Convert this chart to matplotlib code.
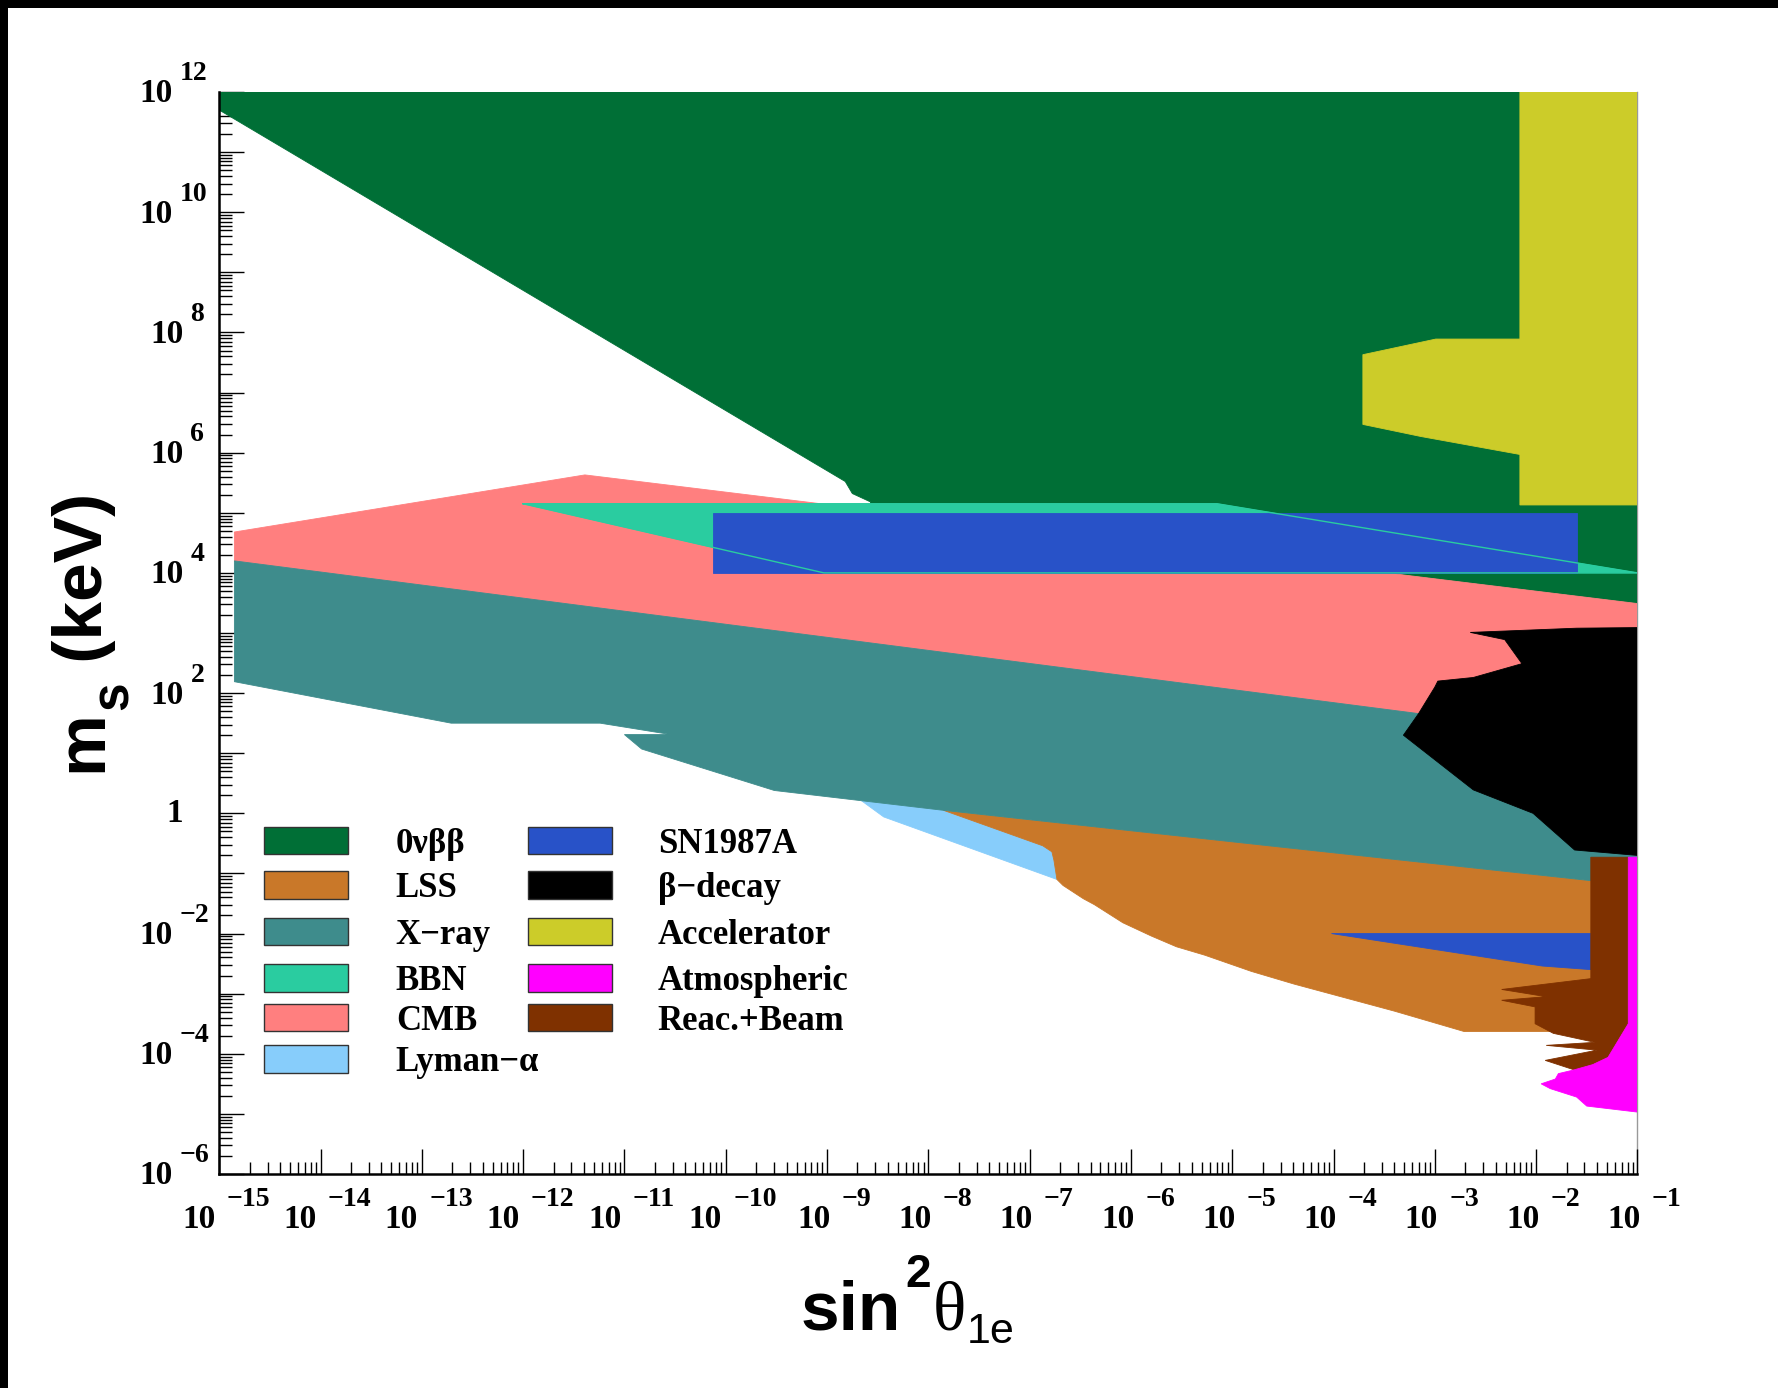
import numpy as np
import matplotlib
matplotlib.use("Agg")
import matplotlib.pyplot as plt
from matplotlib.patches import Rectangle
from matplotlib.transforms import IdentityTransform
from matplotlib.ticker import LogLocator, NullFormatter

# all region outlines in log10 units: x = log10(sin^2 theta_1e), y = log10(m_s / keV)
onubb_x = [-15.0, -15.0, -1.0, -1.0, -8.58, -8.57, -8.75, -8.82, -8.96]
onubb_y = [11.70, 12.0, 12.0, 3.49, 5.05, 5.18, 5.32, 5.52, 5.66]

accel_x = [-2.16, -1.0, -1.0, -2.16, -2.16, -3.14, -3.71, -3.71, -2.99, -2.16]
accel_y = [12.0, 12.0, 5.13, 5.13, 5.97, 6.27, 6.47, 7.63, 7.89, 7.89]

cmb_x = [-14.85, -11.39, -1.0, -1.0, -14.85]
cmb_y = [4.68, 5.63, 3.49, 1.19, 4.20]

bbn_x = [-12.0, -5.15, -1.0, -9.03]
bbn_y = [5.15, 5.15, 4.0, 4.0]

sn_x = [-10.13, -1.60, -1.60, -10.13]
sn_y = [4.0, 4.0, 5.0, 5.0]
sn2_x = [-4.02, -1.46, -1.46, -1.94]
sn2_y = [-2.0, -2.0, -2.60, -2.54]

xray_x = [-14.85, -1.0, -1.0, -1.46, -4.53, -7.85, -8.66, -9.52, -10.83, -11.00,
          -10.54, -11.24, -12.71, -14.85]
xray_y = [4.20, 1.19, -0.80, -1.12, -0.56, 0.05, 0.21, 0.38, 1.07, 1.31,
          1.31, 1.50, 1.50, 2.19]

beta_x = [-2.65, -2.31, -2.14, -2.62, -2.97, -3.00, -3.16, -3.31, -2.62, -2.03,
          -1.62, -1.0, -1.0, -1.60]
beta_y = [3.01, 2.89, 2.49, 2.26, 2.20, 2.10, 1.66, 1.30, 0.39, 0.00,
          -0.61, -0.70, 3.09, 3.08]

lss_x = [-7.85, -1.46, -1.46, -2.71, -3.40, -4.39, -4.81, -5.27, -5.55, -5.80,
         -6.08, -6.36, -6.47, -6.67, -6.73, -6.76, -6.78, -6.87]
lss_y = [0.05, -1.12, -3.63, -3.63, -3.29, -2.84, -2.63, -2.36, -2.22, -2.04,
         -1.82, -1.52, -1.42, -1.20, -1.10, -0.78, -0.64, -0.54]

lyman_x = [-8.66, -7.85, -6.87, -6.78, -6.76, -6.73, -8.44]
lyman_y = [0.21, 0.05, -0.54, -0.64, -0.78, -1.10, -0.06]

reac_x = [-1.46, -1.09, -1.09, -1.29, -1.44, -1.62, -1.91, -1.40, -1.90, -1.42,
          -1.83, -2.01, -2.01, -2.34, -1.90, -2.34, -1.46]
reac_y = [-0.73, -0.73, -3.50, -4.06, -4.18, -4.27, -4.11, -3.94, -3.86, -3.81,
          -3.66, -3.50, -3.22, -3.11, -3.05, -2.93, -2.75]

atmo_x = [-1.09, -1.0, -1.0, -1.50, -1.60, -1.86, -1.95, -1.81, -1.78, -1.63,
          -1.44, -1.29, -1.09]
atmo_y = [-0.73, -0.73, -4.97, -4.87, -4.72, -4.58, -4.50, -4.42, -4.33, -4.27,
          -4.18, -4.06, -3.50]

c_onubb = "#006f36"
c_lss = "#c97829"
c_xray = "#3e8c8c"
c_bbn = "#2acca0"
c_cmb = "#ff7f7f"
c_lyman = "#87cdfb"
c_sn = "#2852c8"
c_beta = "#000000"
c_accel = "#cccc29"
c_atmo = "#ff00ff"
c_reac = "#7f3100"

legend_names = ["0νββ", "LSS", "X−ray", "BBN", "CMB", "Lyman−α",
                "SN1987A", "β−decay", "Accelerator", "Atmospheric", "Reac.+Beam"]
legend_colors = [c_onubb, c_lss, c_xray, c_bbn, c_cmb, c_lyman,
                 c_sn, c_beta, c_accel, c_atmo, c_reac]

xdecades = list(range(-15, 0))
ydecades = list(range(12, -7, -2))

W, H = 1778, 1388
fig = plt.figure(figsize=(W / 100, H / 100), dpi=100, facecolor="white")
ax = fig.add_axes([219.2 / W, 1 - 1174 / H, (1637.4 - 219.2) / W, (1174 - 92) / H])
ax.set_xscale("log")
ax.set_yscale("log")
ax.set_xlim(1e-15, 1e-1)
ax.set_ylim(1e-6, 1e12)


def region(lx, ly, color, z):
    ax.fill(10.0 ** np.array(lx), 10.0 ** np.array(ly), facecolor=color,
            edgecolor=color, lw=0.6, zorder=z)


region(onubb_x, onubb_y, c_onubb, 1)
region(accel_x, accel_y, c_accel, 2)
region(cmb_x, cmb_y, c_cmb, 3)
region(lyman_x, lyman_y, c_lyman, 3)
region(lss_x, lss_y, c_lss, 3.5)
region(xray_x, xray_y, c_xray, 4)
region(bbn_x, bbn_y, c_bbn, 5)
region(sn_x, sn_y, c_sn, 6)
ax.plot(10.0 ** np.append(bbn_x, bbn_x[0]), 10.0 ** np.append(bbn_y, bbn_y[0]),
        color=c_bbn, lw=1.0, zorder=6.5)
region(beta_x, beta_y, c_beta, 7)
region(sn2_x, sn2_y, c_sn, 7.5)
region(reac_x, reac_y, c_reac, 8)
region(atmo_x, atmo_y, c_atmo, 9)

# axis styling (ROOT look)
ax.set_axisbelow(True)
for a in (ax.xaxis, ax.yaxis):
    a.set_major_locator(LogLocator(base=10, numticks=60))
    a.set_minor_locator(LogLocator(base=10, subs=np.arange(2, 10), numticks=60))
    a.set_major_formatter(NullFormatter())
    a.set_minor_formatter(NullFormatter())
ax.tick_params(which="major", direction="in", length=18, width=1.0, top=False, right=False)
ax.tick_params(which="minor", direction="in", length=9, width=1.0, top=False, right=False)
ax.spines["top"].set_visible(False)
ax.spines["right"].set_color("#999999")
ax.spines["right"].set_linewidth(1.0)
ax.spines["right"].set_zorder(0.5)
for s in ("left", "bottom"):
    ax.spines[s].set_linewidth(1.8)

renderer = fig.canvas.get_renderer()
serif_b = dict(family="Liberation Serif", weight="bold")


def put(x, y, s, **kw):
    return fig.text(x, y, s, transform=IdentityTransform(), **kw)


# x tick labels
for e in xdecades:
    tx, ty = ax.transData.transform((10.0 ** e, 1e-6))
    t10 = put(0, 0, "10", fontsize=24, ha="left", va="center", **serif_b)
    te = put(0, 0, "−%d" % abs(e), fontsize=20, ha="left", va="center", **serif_b)
    w10 = t10.get_window_extent(renderer).width
    we = te.get_window_extent(renderer).width
    left = tx + 7 - (w10 + 11 + we) / 2
    t10.set_position((left, ty - 45))
    te.set_position((left + w10 + 11, ty - 25))

# y tick labels
for e in ydecades:
    tx, ty = ax.transData.transform((1e-15, 10.0 ** e))
    if e == 0:
        put(tx - 53, ty, "1", fontsize=24, ha="left", va="center", **serif_b)
        continue
    s = str(e) if e > 0 else "−%d" % (-e)
    off = 80 if len(s) == 2 else 69
    t10 = put(tx - off, ty - 2, "10", fontsize=24, ha="left", va="center", **serif_b)
    w10 = t10.get_window_extent(renderer).width
    put(tx - off + w10 + 7, ty + 18, s, fontsize=20, ha="left", va="center", **serif_b)

# x axis title
x = 801.0
base = H - 1330
for txt, fs, fam, wt, dy, gap in [("sin", 50, "Liberation Sans", "bold", 0, 4),
                                   ("2", 33, "Liberation Sans", "bold", 43, 2),
                                   ("θ", 50, "Liberation Serif", "normal", 0, 1),
                                   ("1e", 31, "Liberation Sans", "normal", -13, 0)]:
    t = put(x, base + dy, txt, fontsize=fs, family=fam, weight=wt, ha="left", va="baseline")
    x = t.get_window_extent(renderer).x1 + gap

# y axis title (rotated)
y = H - 772.0
bx = 101.7
for txt, fs, dx in [("m", 50, 0), ("s", 37, 26), (" (keV)", 50, 0)]:
    t = put(bx + dx, y, txt, fontsize=fs, family="Liberation Sans", weight="bold",
            rotation=90, rotation_mode="anchor", ha="left", va="baseline")
    y = t.get_window_extent(renderer).y1

# legend drawn by hand (two columns, ROOT TLegend look)
rows = [0.3084, 0.2672, 0.2242, 0.1811, 0.1448, 0.1064]
box_x = [0.0317, 0.2180]
txt_x = [0.1245, 0.3092]
bw, bh = 0.0592, 0.0254
for i, (name, col) in enumerate(zip(legend_names, legend_colors)):
    c = 0 if i < 6 else 1
    r = rows[i if i < 6 else i - 6]
    ax.add_patch(Rectangle((box_x[c], r - bh / 2), bw, bh, transform=ax.transAxes,
                           facecolor=col, edgecolor="#333333", lw=1.0,
                           zorder=20, clip_on=False))
    ax.text(txt_x[c], r - 0.0115, name, transform=ax.transAxes, ha="left",
            va="baseline", fontsize=25, zorder=20, **serif_b)

# black screenshot frame on top and left
fig.add_artist(Rectangle((0, 1 - 8 / H), 1, 8 / H, transform=fig.transFigure,
                         facecolor="black", edgecolor="none"))
fig.add_artist(Rectangle((0, 0), 8 / W, 1, transform=fig.transFigure,
                         facecolor="black", edgecolor="none"))

fig.savefig("out.png", dpi=100, facecolor="white")
